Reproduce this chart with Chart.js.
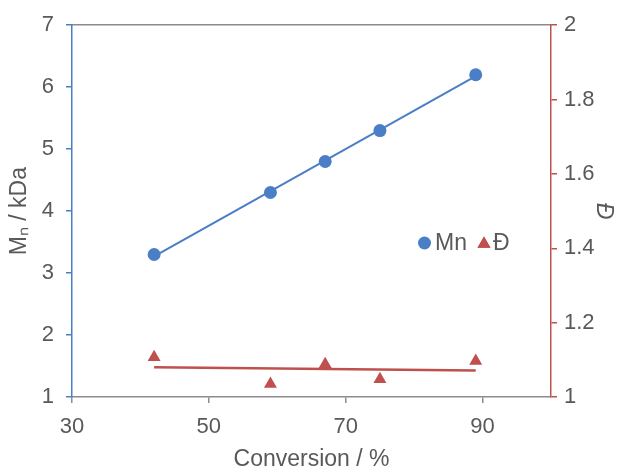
<!DOCTYPE html>
<html>
<head>
<meta charset="utf-8">
<script src="https://cdn.jsdelivr.net/npm/chart.js@4.4.1/dist/chart.umd.min.js"></script>
<style>
  html, body { margin: 0; padding: 0; background: #fff; }
</style>
</head>
<body>
<canvas id="chart" width="634" height="469"></canvas>
<script>
// values
const conversion = [42, 59, 67, 75, 89]
const mn = [3.3, 4.3, 4.8, 5.3, 6.2]
const dispersity = [1.107, 1.035, 1.088, 1.048, 1.097]
const trendX = [42, 89]
const mnTrend = [3.27, 6.18]
const dTrend = [1.08, 1.071]
const xTicks = [30, 50, 70, 90]
const mnTicks = [1, 2, 3, 4, 5, 6, 7]
const dTicks = [1, 1.2, 1.4, 1.6, 1.8, 2]

const colors = {
  blue: "#4a7ec6",
  red: "#c0504d",
  axis: "#8c8c8c",
  text: "#595959",
}
const fontFamily = "'Liberation Sans', Arial, sans-serif"

const pairs = (xs, ys) => xs.map((x, i) => ({ x: x, y: ys[i] }))
const fixTicks = (list) => (scale) => {
  scale.ticks = list.map((v) => ({ value: v }))
}

// legend drawn inside the plot area, like the reference
const innerLegend = {
  id: "innerLegend",
  afterDatasetsDraw(chart) {
    const ctx = chart.ctx
    const y = 243
    ctx.save()
    ctx.fillStyle = colors.blue
    ctx.beginPath()
    ctx.arc(424.5, y, 6.5, 0, Math.PI * 2)
    ctx.fill()
    ctx.fillStyle = colors.red
    Chart.helpers.drawPoint(ctx, { pointStyle: "triangle", radius: 7.5, borderWidth: 0 }, 484, y + 1)
    ctx.fill()
    ctx.fillStyle = colors.text
    ctx.font = "23px " + fontFamily
    ctx.textBaseline = "middle"
    ctx.textAlign = "left"
    ctx.fillText("Mn", 435, y + 1)
    ctx.fillText("Đ", 493, y + 1)
    ctx.restore()
  },
}

Chart.defaults.font.family = fontFamily
Chart.defaults.color = colors.text

new Chart(document.getElementById("chart"), {
  type: "scatter",
  plugins: [innerLegend],
  data: {
    datasets: [
      {
        label: "Mn",
        data: pairs(conversion, mn),
        yAxisID: "y",
        pointStyle: "circle",
        pointRadius: 6.5,
        backgroundColor: colors.blue,
        borderColor: colors.blue,
        borderWidth: 0,
      },
      {
        label: "Đ",
        data: pairs(conversion, dispersity),
        yAxisID: "y2",
        pointStyle: "triangle",
        pointRadius: 7.5,
        backgroundColor: colors.red,
        borderColor: colors.red,
        borderWidth: 0,
      },
      {
        label: "Mn trend",
        data: pairs(trendX, mnTrend),
        yAxisID: "y",
        showLine: true,
        pointRadius: 0,
        borderColor: colors.blue,
        borderWidth: 2,
      },
      {
        label: "Đ trend",
        data: pairs(trendX, dTrend),
        yAxisID: "y2",
        showLine: true,
        pointRadius: 0,
        borderColor: colors.red,
        borderWidth: 2.5,
      },
    ],
  },
  options: {
    responsive: false,
    animation: false,
    layout: { padding: 0 },
    plugins: { legend: { display: false }, tooltip: { enabled: false } },
    scales: {
      x: {
        type: "linear",
        position: "bottom",
        min: 30,
        max: 100,
        afterBuildTicks: fixTicks(xTicks),
        afterFit: (s) => { s.height = 72 },
        grid: { drawOnChartArea: false, tickLength: 6, color: colors.axis, lineWidth: 1.5 },
        border: { color: colors.axis, width: 1.5 },
        ticks: { padding: 11, font: { size: 22 }, color: colors.text, callback: (v) => String(v) },
        title: {
          display: true,
          text: "Conversion / %",
          color: colors.text,
          font: { size: 23 },
          padding: { top: 0, bottom: -4 },
        },
      },
      x2: {
        type: "linear",
        position: "top",
        min: 30,
        max: 100,
        afterFit: (s) => { s.height = 24 },
        grid: { drawOnChartArea: false, drawTicks: false },
        border: { color: colors.axis, width: 1.5 },
        ticks: { display: false },
      },
      y: {
        type: "linear",
        position: "left",
        min: 1,
        max: 7,
        afterBuildTicks: fixTicks(mnTicks),
        afterFit: (s) => { s.width = 72 },
        grid: { drawOnChartArea: false, tickLength: 6, color: colors.blue, lineWidth: 1.5 },
        border: { color: colors.blue, width: 1.5 },
        ticks: { padding: 12, font: { size: 22 }, color: colors.text, callback: (v) => String(v) },
        title: {
          display: true,
          text: "Mₙ / kDa",
          color: colors.text,
          font: { size: 23 },
          padding: { top: 6, bottom: 0 },
        },
      },
      y2: {
        type: "linear",
        position: "right",
        min: 1,
        max: 2,
        afterBuildTicks: fixTicks(dTicks),
        afterFit: (s) => { s.width = 83 },
        grid: { drawOnChartArea: false, tickLength: 6, color: colors.red, lineWidth: 1.5 },
        border: { color: colors.red, width: 1.5 },
        ticks: { padding: 7, font: { size: 22 }, color: colors.text, callback: (v) => String(v) },
        title: {
          display: true,
          text: "Đ",
          color: colors.text,
          font: { size: 23, style: "italic" },
          padding: { top: 17, bottom: 0 },
        },
      },
    },
  },
})
</script>
</body>
</html>
